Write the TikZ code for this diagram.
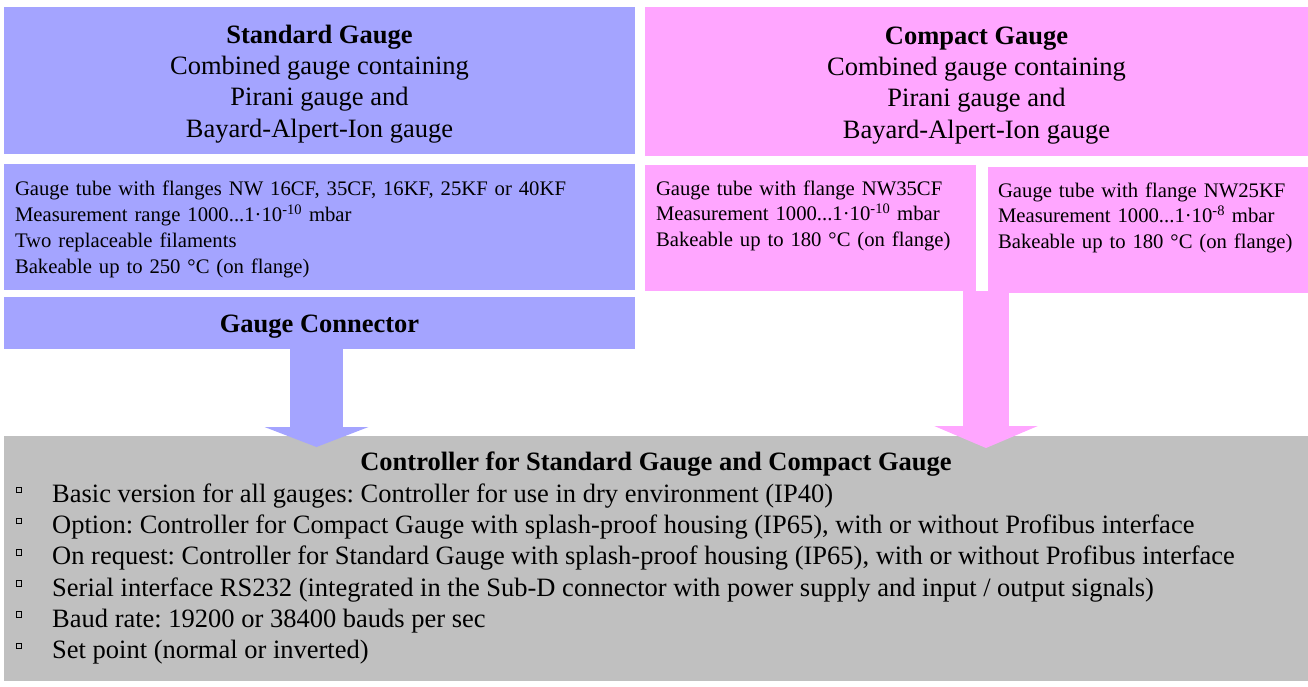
\documentclass[tikz,border=0pt]{standalone}
\usepackage{fontspec}
\setmainfont{Liberation Serif}
\usepackage{tikz}
\usetikzlibrary{arrows.meta}
\frenchspacing
\definecolor{stdblue}{RGB}{164,164,255}
\definecolor{cmppink}{RGB}{255,166,255}
\definecolor{ctrlgray}{RGB}{192,192,192}
\newcommand{\bigfont}{\fontsize{26.5}{31.3}\selectfont}
\newcommand{\specfont}{\fontsize{20.7}{25.8}\selectfont}
\newcommand{\headstrut}{\rule{0pt}{25pt}}

\begin{document}
\begin{tikzpicture}[x=1pt,y=-1pt,
  box/.style={anchor=north west,inner sep=0pt,outer sep=0pt},
  head/.style={box,align=center,font=\bigfont},
  spec/.style={box,align=left,font=\specfont,minimum height=126pt,execute at begin node={\rule{0pt}{19.5pt}}}]
\useasboundingbox (0,0) rectangle (1308,686);
\node (SG) at (4,7)[head,fill=stdblue,minimum width=631pt,minimum height=147pt] {\headstrut\textbf{Standard Gauge}\\Combined gauge containing\\Pirani gauge and\\Bayard-Alpert-Ion gauge};
\node (CG) at (645,7)[head,fill=cmppink,minimum width=663pt,minimum height=149pt] {\headstrut\textbf{Compact Gauge}\\Combined gauge containing\\Pirani gauge and\\Bayard-Alpert-Ion gauge};
\node (SGspec) at (4,164)[spec,fill=stdblue,inner xsep=11pt,text width=609pt] {Gauge tube with flanges NW 16CF, 35CF, 16KF, 25KF or 40KF\\Measurement range 1000...1·10\textsuperscript{-10} mbar\\Two replaceable filaments\\Bakeable up to 250 °C (on flange)};
\node (CGL) at (645,165)[spec,fill=cmppink,inner xsep=11pt,text width=309pt] {Gauge tube with flange NW35CF\\Measurement 1000...1·10\textsuperscript{-10} mbar\\Bakeable up to 180 °C (on flange)\\\strut};
\node (CGR) at (988,167)[spec,fill=cmppink,inner xsep=10pt,text width=300pt] {Gauge tube with flange NW25KF\\Measurement 1000...1·10\textsuperscript{-8} mbar\\Bakeable up to 180 °C (on flange)\\\strut};
\node (Conn) at (4,297)[head,fill=stdblue,minimum width=631pt,minimum height=52pt] {\headstrut\textbf{Gauge Connector}};
\node (Ctrl) at (4,436)[box,fill=ctrlgray,minimum width=1304pt,minimum height=245pt] {};
\coordinate (bluetip) at (316.5,447);
\coordinate (pinktip) at (986,448);
\draw [stdblue,line width=53pt,-{Triangle[width=104pt,length=20pt,line width=0pt]}] (Conn.south -| bluetip) -- (bluetip);
\draw [cmppink,line width=46.5pt,-{Triangle[width=103.5pt,length=22pt,line width=0pt]}] (CGL.south -| pinktip) -- (pinktip);
\node (CtrlTitle) at (656,470)[anchor=base,inner sep=0pt,font=\bigfont\bfseries] {Controller for Standard Gauge and Compact Gauge};
\foreach \txt [count=\i from 0] in {
  {Basic version for all gauges: Controller for use in dry environment (IP40)},
  {Option: Controller for Compact Gauge with splash-proof housing (IP65), with or without Profibus interface},
  {On request: Controller for Standard Gauge with splash-proof housing (IP65), with or without Profibus interface},
  {Serial interface RS232 (integrated in the Sub-D connector with power supply and input / output signals)},
  {Baud rate: 19200 or 38400 bauds per sec},
  {Set point (normal or inverted)}}
{
  \node (item\i) at (52,502.5+31.2*\i)[anchor=base west,inner sep=0pt,font=\bigfont] {\txt};
  \node (bul\i) at (19,489.7+31.2*\i)[draw,inner sep=0pt,minimum width=4.6pt,minimum height=5.6pt,line width=0.7pt] {};
}
\end{tikzpicture}
\end{document}
